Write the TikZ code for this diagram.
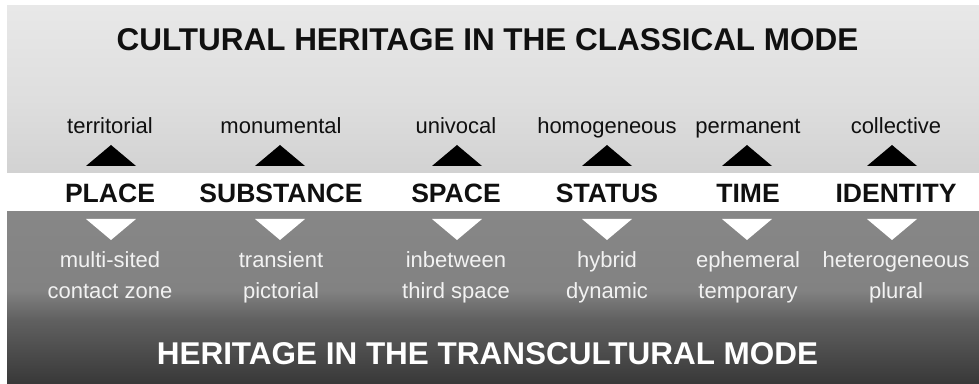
\documentclass[tikz,border=0pt]{standalone}
\usepackage{fontspec}
\setmainfont{Liberation Sans}

\definecolor{ink}{HTML}{101010}
\definecolor{paper}{HTML}{F2F2F2}
\definecolor{lightTop}{HTML}{E8E8E8}
\definecolor{lightMid}{HTML}{DEDEDE}
\definecolor{lightBot}{HTML}{D2D2D2}
\definecolor{darkTop}{HTML}{878787}
\definecolor{darkMid}{HTML}{828282}
\definecolor{darkLow}{HTML}{606060}
\definecolor{darkBot}{HTML}{383838}

% vertical shadings: the filled path maps onto 25bp..75bp
\pgfdeclareverticalshading{classicband}{100bp}{%
  color(0bp)=(lightBot); color(25bp)=(lightBot); color(46.9bp)=(lightMid);
  color(75bp)=(lightTop); color(100bp)=(lightTop)}
\pgfdeclareverticalshading{transband}{100bp}{%
  color(0bp)=(darkBot); color(25bp)=(darkBot); color(43.6bp)=(darkLow);
  color(52.3bp)=(darkMid); color(75bp)=(darkTop); color(100bp)=(darkTop)}

\begin{document}
\begin{tikzpicture}[x=0.75pt,y=-0.75pt,
  every node/.style={inner sep=0pt, outer sep=0pt, anchor=base},
  headline/.style={font=\fontsize{23.6}{28}\selectfont\bfseries},
  concept/.style={font=\fontsize{19.9}{24}\selectfont\bfseries, text=ink},
  classic/.style={font=\fontsize{16.5}{20}\selectfont, text=ink},
  transc/.style={font=\fontsize{16.5}{20}\selectfont, text=paper},
  uptri/.style={fill=black},
  downtri/.style={fill=white}]

  % canvas and bands
  \useasboundingbox (0,0) rectangle (979,384);
  \fill[white] (0,0) rectangle (979,384);
  \shade[shading=classicband] (7,6) rectangle (979,173);
  \shade[shading=transband] (7,212) rectangle (979,384);

  % headings
  \node[headline, text=ink] (classical) at (487.5,51) {CULTURAL HERITAGE IN THE CLASSICAL MODE};
  \node[headline, text=white] (transcultural) at (487.5,365) {HERITAGE IN THE TRANSCULTURAL MODE};

  % columns: text x / triangle x / index / concept / classical / transcultural (two lines)
  \foreach \x/\t/\i/\word/\up/\la/\lb in {
      110/111/1/PLACE/territorial/multi-sited/contact zone,
      281/280/2/SUBSTANCE/monumental/transient/pictorial,
      456/457/3/SPACE/univocal/inbetween/third space,
      607/607/4/STATUS/homogeneous/hybrid/dynamic,
      748/747/5/TIME/permanent/ephemeral/temporary,
      896/892/6/IDENTITY/collective/heterogeneous/plural} {
    \node[classic] (up\i) at (\x,134) {\up};
    \node[concept] (c\i) at (\x,203) {\word};
    \node[transc] (la\i) at (\x,268) {\la};
    \node[transc] (lb\i) at (\x,299) {\lb};
    \fill[uptri] ({\t-25},166) -- (\t,145) -- ({\t+25},166) -- cycle;
    \fill[downtri] ({\t-25},219) -- (\t,240) -- ({\t+25},219) -- cycle;
  }
\end{tikzpicture}
\end{document}
